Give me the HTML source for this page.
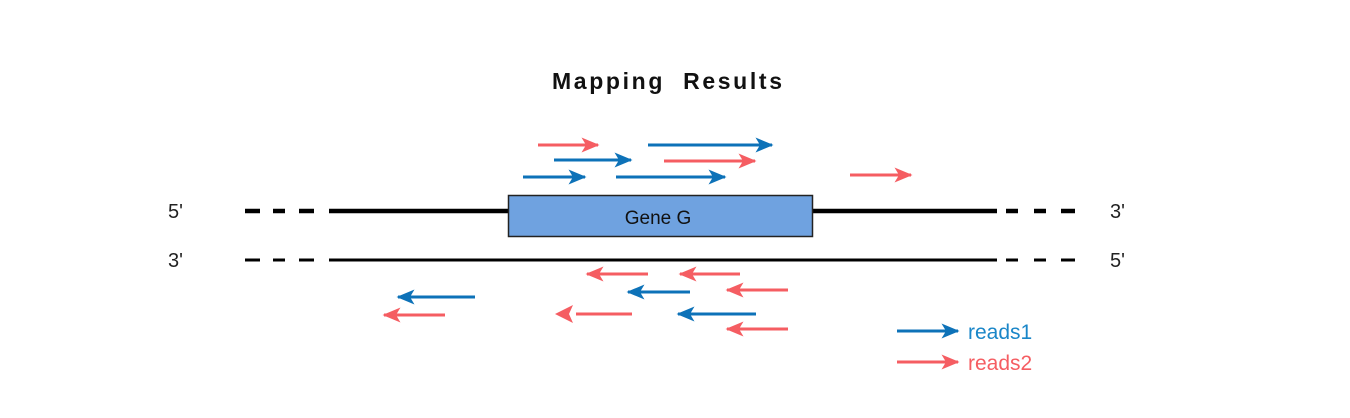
<!DOCTYPE html>
<html><head><meta charset="utf-8"><style>
body{margin:0;background:#fff;}
svg{display:block}
text{font-family:"Liberation Sans",sans-serif}
</style></head><body>
<svg width="1350" height="418" viewBox="0 0 1350 418" xmlns="http://www.w3.org/2000/svg">
<defs>
<marker id="b" markerWidth="6" markerHeight="5" refX="5.5" refY="2.5" orient="auto" markerUnits="strokeWidth"><path d="M0,0 L6,2.5 L0,5 L1.5,2.5 Z" fill="#0d72b8"/></marker>
<marker id="r" markerWidth="6" markerHeight="5" refX="5.5" refY="2.5" orient="auto" markerUnits="strokeWidth"><path d="M0,0 L6,2.5 L0,5 L1.5,2.5 Z" fill="#f55d62"/></marker>
</defs>
<text x="667" y="89" font-size="23" font-weight="bold" text-anchor="middle" fill="#111" textLength="230">Mapping&#160;&#160;Results</text>
<g stroke="#000" stroke-width="4.5">
<line x1="245" y1="211" x2="260" y2="211"/><line x1="273" y1="211" x2="285" y2="211"/><line x1="299" y1="211" x2="314" y2="211"/>
<line x1="329" y1="211" x2="997" y2="211"/>
<line x1="1006" y1="211" x2="1018" y2="211"/><line x1="1034" y1="211" x2="1046" y2="211"/><line x1="1061" y1="211" x2="1075" y2="211"/>
</g>
<g stroke="#000" stroke-width="3">
<line x1="245" y1="260" x2="260" y2="260"/><line x1="273" y1="260" x2="285" y2="260"/><line x1="299" y1="260" x2="314" y2="260"/>
<line x1="329" y1="260" x2="997" y2="260"/>
<line x1="1006" y1="260" x2="1018" y2="260"/><line x1="1034" y1="260" x2="1046" y2="260"/><line x1="1061" y1="260" x2="1075" y2="260"/>
</g>
<rect x="508.5" y="195.5" width="304" height="41" fill="#6fa2e0" stroke="#222" stroke-width="1.5"/>
<text x="658" y="224" font-size="19" text-anchor="middle" fill="#111" font-family="'Comic Sans MS','DejaVu Sans',sans-serif">Gene G</text>
<g font-size="20" fill="#222">
<text x="168" y="218">5'</text><text x="168" y="267">3'</text>
<text x="1110" y="218">3'</text><text x="1110" y="267">5'</text>
</g>
<g stroke-width="3" fill="none">
<line x1="538" y1="145" x2="598" y2="145" stroke="#f55d62" marker-end="url(#r)"/>
<line x1="648" y1="145" x2="772" y2="145" stroke="#0d72b8" marker-end="url(#b)"/>
<line x1="554" y1="160" x2="631" y2="160" stroke="#0d72b8" marker-end="url(#b)"/>
<line x1="664" y1="161" x2="755" y2="161" stroke="#f55d62" marker-end="url(#r)"/>
<line x1="523" y1="177" x2="585" y2="177" stroke="#0d72b8" marker-end="url(#b)"/>
<line x1="616" y1="177" x2="725" y2="177" stroke="#0d72b8" marker-end="url(#b)"/>
<line x1="850" y1="175" x2="911" y2="175" stroke="#f55d62" marker-end="url(#r)"/>
<line x1="648" y1="274" x2="587" y2="274" stroke="#f55d62" marker-end="url(#r)"/>
<line x1="740" y1="274" x2="680" y2="274" stroke="#f55d62" marker-end="url(#r)"/>
<line x1="690" y1="292" x2="628" y2="292" stroke="#0d72b8" marker-end="url(#b)"/>
<line x1="788" y1="290" x2="727" y2="290" stroke="#f55d62" marker-end="url(#r)"/>
<line x1="475" y1="297" x2="398" y2="297" stroke="#0d72b8" marker-end="url(#b)"/>
<line x1="445" y1="315" x2="384" y2="315" stroke="#f55d62" marker-end="url(#r)"/>
<line x1="632" y1="314" x2="576" y2="314" stroke="#f55d62"/>
<path d="M573,305 L555,314 L573,323 L569,314 Z" fill="#f55d62" stroke="none"/>
<line x1="756" y1="314" x2="678" y2="314" stroke="#0d72b8" marker-end="url(#b)"/>
<line x1="788" y1="329" x2="727" y2="329" stroke="#f55d62" marker-end="url(#r)"/>
<line x1="897" y1="331" x2="958" y2="331" stroke="#0d72b8" marker-end="url(#b)"/>
<line x1="897" y1="362" x2="958" y2="362" stroke="#f55d62" marker-end="url(#r)"/>
</g>
<text x="968" y="339" font-size="21" fill="#1a86c8">reads1</text>
<text x="968" y="370" font-size="21" fill="#f55d62">reads2</text>
</svg>
</body></html>
